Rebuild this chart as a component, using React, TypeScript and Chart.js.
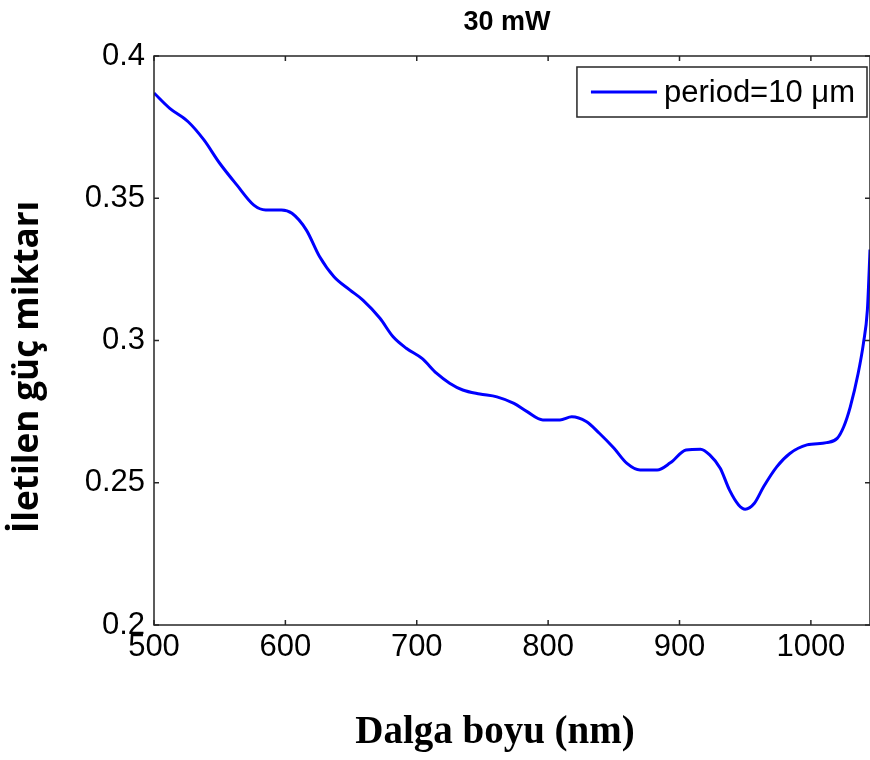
import { useEffect, useRef } from "react";
import { Chart, registerables } from "chart.js";

Chart.register(...registerables);

// Wavelength (nm) and transmitted power
const wavelengths = [
  500, 512, 526, 538, 550, 563, 576, 585, 597, 605,
  616, 626, 637, 649, 659, 672, 682, 692, 704, 715,
  725, 735, 748, 761, 774, 784, 796, 809, 818, 829,
  839, 850, 860, 870, 883, 893, 905, 916, 923, 931,
  938, 945, 950, 957, 964, 974, 984, 997, 1012, 1020,
  1025, 1030, 1036, 1040, 1043, 1044.4, 1045,
];
const transmittedPower = [
  0.387, 0.3816, 0.3769, 0.3705, 0.3623, 0.3547, 0.3476, 0.3459, 0.3459, 0.3447,
  0.3388, 0.3295, 0.3224, 0.3178, 0.3142, 0.3078, 0.3013, 0.2973, 0.2937, 0.2885,
  0.285, 0.2826, 0.2812, 0.2802, 0.2779, 0.275, 0.2721, 0.2721, 0.2732, 0.2715,
  0.2674, 0.2622, 0.2568, 0.2545, 0.2545, 0.257, 0.2615, 0.2618, 0.2598, 0.2551,
  0.2475, 0.2422, 0.2407, 0.2428, 0.2486, 0.2556, 0.2603, 0.2633, 0.2641, 0.2656,
  0.2697, 0.2767, 0.2885, 0.299, 0.3107, 0.3248, 0.332,
];

const seriesLabel = "period=10 \u03bcm";
const chartTitle = "30 mW";
const xAxisTitle = "Dalga boyu (nm)";
const yAxisTitle = "\u0130letilen g\u00fc\u00e7 miktar\u0131";

const xMin = 500;
const xMax = 1045;
const xStep = 100;
const yMin = 0.2;
const yMax = 0.4;
const yStep = 0.05;

const SANS = "'Liberation Sans', Arial, Helvetica, sans-serif";

export default function App() {
  const ref = useRef<HTMLCanvasElement | null>(null);

  useEffect(() => {
    const canvas = ref.current;
    if (!canvas) return;

    const decor = {
      id: "decor",
      afterDatasetsDraw(chart: any) {
        const { ctx, chartArea: a, scales } = chart;
        ctx.save();
        // frame
        ctx.strokeStyle = "#262626";
        ctx.lineWidth = 1.5;
        ctx.strokeRect(a.left, a.top, a.right - a.left, a.bottom - a.top);
        // inward ticks on all four sides
        const tl = 5;
        ctx.beginPath();
        scales.x.ticks.forEach((t: any) => {
          const px = scales.x.getPixelForValue(t.value);
          ctx.moveTo(px, a.bottom);
          ctx.lineTo(px, a.bottom - tl);
          ctx.moveTo(px, a.top);
          ctx.lineTo(px, a.top + tl);
        });
        scales.y.ticks.forEach((t: any) => {
          const py = scales.y.getPixelForValue(t.value);
          ctx.moveTo(a.left, py);
          ctx.lineTo(a.left + tl, py);
          ctx.moveTo(a.right, py);
          ctx.lineTo(a.right - tl, py);
        });
        ctx.stroke();

        // legend box
        const ds = chart.data.datasets[0];
        ctx.font = `31px ${SANS}`;
        const tw = ctx.measureText(ds.label).width;
        const lineLen = 66;
        const padL = 14;
        const gap = 7;
        const padR = 12;
        const bw = padL + lineLen + gap + tw + padR;
        const bh = 50;
        const bx = a.right - 3 - bw;
        const by = a.top + 11;
        ctx.fillStyle = "#ffffff";
        ctx.fillRect(bx, by, bw, bh);
        ctx.strokeStyle = "#262626";
        ctx.lineWidth = 1.5;
        ctx.strokeRect(bx, by, bw, bh);
        ctx.strokeStyle = ds.borderColor;
        ctx.lineWidth = 3;
        ctx.beginPath();
        ctx.moveTo(bx + padL, by + bh / 2);
        ctx.lineTo(bx + padL + lineLen, by + bh / 2);
        ctx.stroke();
        ctx.fillStyle = "#000000";
        ctx.textBaseline = "middle";
        ctx.textAlign = "left";
        ctx.fillText(ds.label, bx + padL + lineLen + gap, by + bh / 2 + 1);
        ctx.restore();
      },
      afterDraw(chart: any) {
        const { ctx } = chart;
        ctx.save();
        ctx.fillStyle = "#000000";
        ctx.textAlign = "center";
        ctx.textBaseline = "middle";
        // title
        ctx.font = `bold 27px ${SANS}`;
        ctx.fillText(chartTitle, 507, 23);
        // x axis title
        ctx.font = `bold 39px 'Liberation Serif', 'Times New Roman', serif`;
        ctx.fillText(xAxisTitle, 495, 733);
        // y axis title
        ctx.font = `bold 28px 'Open Sans', 'Noto Sans', sans-serif`;
        const w = ctx.measureText(yAxisTitle).width;
        const size = 28 * (333 / w);
        ctx.font = `bold ${size.toFixed(1)}px 'Open Sans', 'Noto Sans', sans-serif`;
        ctx.translate(28, 367);
        ctx.rotate(-Math.PI / 2);
        ctx.fillText(yAxisTitle, 0, 0);
        ctx.restore();
      },
    };

    const chart = new Chart(canvas, {
      type: "line",
      data: {
        datasets: [
          {
            label: seriesLabel,
            data: wavelengths.map((x, i) => ({ x, y: transmittedPower[i] })),
            borderColor: "#0000ff",
            backgroundColor: "#0000ff",
            borderWidth: 3,
            pointRadius: 0,
            cubicInterpolationMode: "monotone",
            fill: false,
          },
        ],
      },
      options: {
        animation: false,
        responsive: false,
        devicePixelRatio: 1,
        layout: { padding: { top: 56, right: 10, left: 0, bottom: 0 } },
        plugins: {
          legend: { display: false },
          title: { display: false },
          tooltip: { enabled: false },
        },
        scales: {
          x: {
            type: "linear",
            min: xMin,
            max: xMax,
            grid: { display: false, drawTicks: false },
            border: { display: false },
            ticks: {
              stepSize: xStep,
              includeBounds: false,
              autoSkip: false,
              maxRotation: 0,
              padding: 4,
              color: "#000000",
              font: { family: SANS, size: 31 },
              callback: (v: any) => String(v),
            },
            afterFit: (s: any) => {
              s.height = 135;
            },
          },
          y: {
            type: "linear",
            min: yMin,
            max: yMax,
            grid: { display: false, drawTicks: false },
            border: { display: false },
            ticks: {
              stepSize: yStep,
              padding: 9,
              color: "#000000",
              font: { family: SANS, size: 31 },
              callback: (v: any) => String(Number(Number(v).toFixed(2))),
            },
            afterFit: (s: any) => {
              s.width = 154;
            },
          },
        },
      },
      plugins: [decor],
    });

    return () => chart.destroy();
  }, []);

  return (
    <div
      style={{
        position: "fixed",
        left: 0,
        top: 0,
        width: 870,
        height: 760,
        overflow: "hidden",
        background: "#ffffff",
      }}
    >
      <canvas ref={ref} width={880} height={760} style={{ display: "block", width: 880, height: 760 }} />
    </div>
  );
}
